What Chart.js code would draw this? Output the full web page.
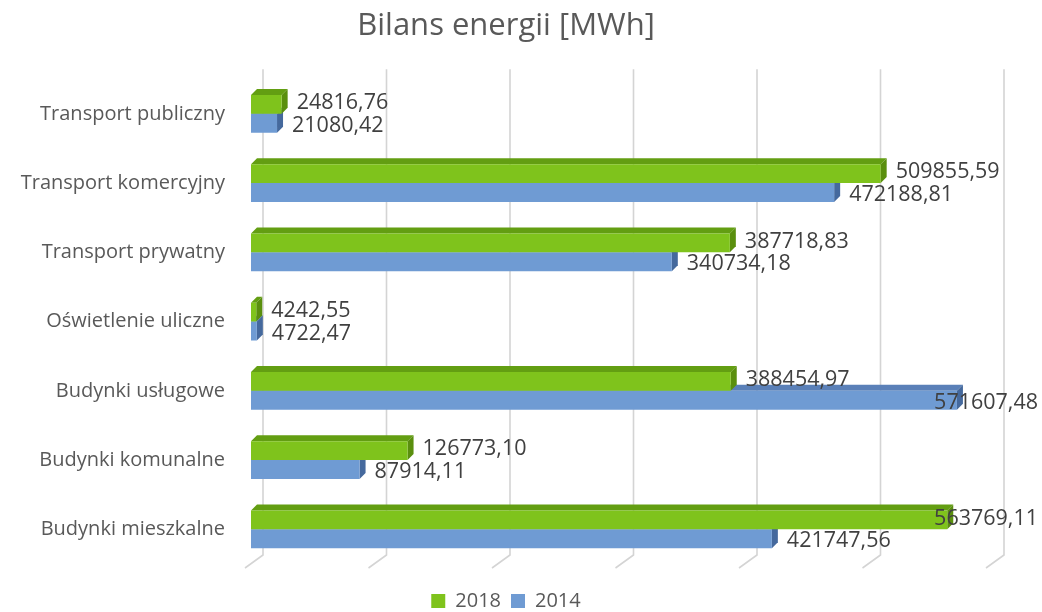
<!DOCTYPE html>
<html><head><meta charset="utf-8">
<script src="https://cdn.jsdelivr.net/npm/chart.js@4.4.1/dist/chart.umd.min.js"></script>
<style>html,body{margin:0;padding:0;background:#fff}#wrap{width:1042px;height:612px}</style>
</head><body><div id="wrap"><canvas id="c" width="1042" height="612"></canvas></div>
<script>
const categories = ['Transport publiczny','Transport komercyjny','Transport prywatny','Oświetlenie uliczne','Budynki usługowe','Budynki komunalne','Budynki mieszkalne'];
const seriesNames = ['2018','2014'];
const values2018 = [24816.76, 509855.59, 387718.83, 4242.55, 388454.97, 126773.10, 563769.11];
const values2014 = [21080.42, 472188.81, 340734.18, 4722.47, 571607.48, 87914.11, 421747.56];
const xTicks = [0, 100000, 200000, 300000, 400000, 500000, 600000];
const titleText = 'Bilans energii [MWh]';

const COLORS = [
  {front:'#7FC31C', top:'#639E12', side:'#5A8F0E'},
  {front:'#6F9BD3', top:'#5A80B8', side:'#45699D'}
];
const FONT = 'Open Sans';
const fmt = v => v.toFixed(2).replace('.', ',');

const threeD = {
  id:'threeD',
  beforeDatasetsDraw(chart){
    const ctx = chart.ctx, ca = chart.chartArea, xs = chart.scales.x;
    ctx.save();
    ctx.strokeStyle = '#d4d4d4'; ctx.lineWidth = 1.6;
    xTicks.forEach(v => {
      const x = xs.getPixelForValue(v);
      ctx.beginPath();
      ctx.moveTo(x + 12, ca.top - 10);
      ctx.lineTo(x + 12, ca.bottom - 9);
      ctx.lineTo(x - 6, ca.bottom + 4);
      ctx.stroke();
    });
    const dx = 6, dy = 6;
    [1, 0].forEach(di => {
      const meta = chart.getDatasetMeta(di);
      const c = COLORS[di];
      meta.data.forEach(bar => {
        const h = bar.height, top = bar.y - h/2, bot = bar.y + h/2;
        ctx.fillStyle = c.top;
        ctx.beginPath();
        ctx.moveTo(bar.base, top); ctx.lineTo(bar.base + dx, top - dy);
        ctx.lineTo(bar.x + dx, top - dy); ctx.lineTo(bar.x, top); ctx.closePath(); ctx.fill();
        ctx.fillStyle = c.side;
        ctx.beginPath();
        ctx.moveTo(bar.x, top); ctx.lineTo(bar.x + dx, top - dy);
        ctx.lineTo(bar.x + dx, bot - dy); ctx.lineTo(bar.x, bot); ctx.closePath(); ctx.fill();
      });
    });
    ctx.restore();
  },
  afterDatasetsDraw(chart){
    const ctx = chart.ctx;
    ctx.save();
    ctx.font = '21.5px "' + FONT + '"';
    ctx.fillStyle = '#404040';
    ctx.textBaseline = 'middle';
    ctx.textAlign = 'left';
    [0, 1].forEach(di => {
      const meta = chart.getDatasetMeta(di);
      const data = chart.data.datasets[di].data;
      meta.data.forEach((bar, i) => {
        const t = fmt(data[i]);
        const w = ctx.measureText(t).width;
        let x = bar.x + 15;
        if (x + w > 1038) x = 1038 - w;
        const y = bar.y + (di === 0 ? -1.5 : 2.5);
        ctx.fillText(t, x, y);
      });
    });
    ctx.restore();
  }
};

new Chart(document.getElementById('c'), {
  type:'bar',
  data:{
    labels: categories,
    datasets:[
      {label: seriesNames[0], data: values2018, backgroundColor: COLORS[0].front, borderWidth:0},
      {label: seriesNames[1], data: values2014, backgroundColor: COLORS[1].front, borderWidth:0}
    ]
  },
  options:{
    indexAxis:'y',
    responsive:false,
    devicePixelRatio:1,
    animation:false,
    categoryPercentage:0.546,
    barPercentage:1,
    layout:{padding:{left:20, right:50, top:0, bottom:-9}},
    scales:{
      x:{
        min:0, max:600000,
        ticks:{display:false, stepSize:100000},
        grid:{display:false},
        border:{display:false},
        afterFit(s){ s.height = 17; }
      },
      y:{
        grid:{display:false, drawTicks:false},
        border:{display:false},
        ticks:{color:'#595959', font:{family:FONT, size:20}, padding:26},
        afterFit(s){ s.width = 231; }
      }
    },
    plugins:{
      title:{display:true, text:titleText, color:'#595959',
        font:{family:FONT, size:31, weight:'normal'}, padding:{top:8, bottom:34}},
      legend:{position:'bottom',
        labels:{color:'#595959', font:{family:FONT, size:20}, boxWidth:14, boxHeight:14, padding:10}},
      tooltip:{enabled:false}
    }
  },
  plugins:[threeD]
});
</script></body></html>
